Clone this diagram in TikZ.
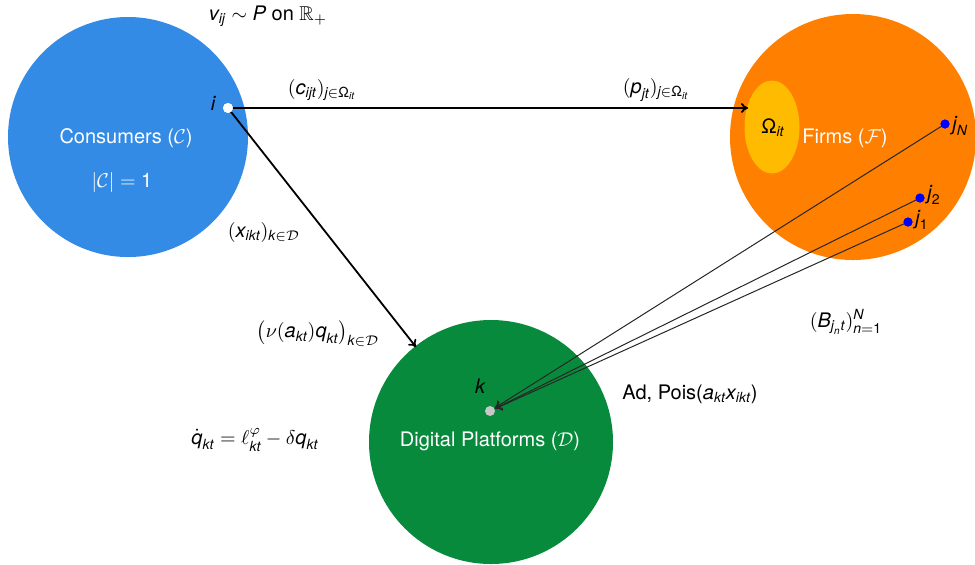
\documentclass[tikz,border=0pt]{standalone}
\usepackage{amsmath,amssymb}
\usepackage{fontspec}
\setmainfont{TeX Gyre Heros}
\usetikzlibrary{arrows.meta,shapes.geometric}
\newcommand{\mi}[1]{\textit{#1}}
\newcommand{\tu}[1]{\textup{#1}}
\newcommand{\Om}{\text{\upshape Ω}}
\definecolor{consblue}{RGB}{51,139,229}
\definecolor{firmorange}{RGB}{255,127,0}
\definecolor{platgreen}{RGB}{7,138,60}
\definecolor{omgold}{RGB}{255,187,0}
\definecolor{kgray}{RGB}{200,200,200}
\tikzset{
  bigcirc/.style={circle,inner sep=0pt,draw=none},
  flow/.style={-{To[length=3.5pt,width=5pt]},line width=0.9pt,black},
  adflow/.style={-{To[length=3.5pt,width=5pt]},line width=0.5pt,black!85},
  dotnode/.style={circle,inner sep=0pt,minimum size=5pt},
  lbl/.style={inner sep=1pt},
  intext/.style={text=white,inner sep=0pt}
}
\begin{document}
\begin{tikzpicture}[x=0.5pt,y=-0.5pt]
\useasboundingbox (0,0) rectangle (975,564);
% circles
\node[bigcirc,fill=consblue,minimum size=120pt] (C) at (128,137) {};
\node[bigcirc,fill=firmorange,minimum size=123pt] (F) at (853,137) {};
\node[bigcirc,fill=platgreen,minimum size=122pt] (D) at (491,442) {};
\node[ellipse,fill=omgold,inner sep=0pt,minimum width=27.5pt,minimum height=46.5pt] (O) at (772,127) {};
% texts inside circles
\node[intext] (ctxt) at (126,138) {Consumers ($\mathcal{C}$)};
\node[intext] (csize) at (122,182) {$|\mathcal{C}|=\tu{1}$};
\node[intext] (ftxt) at (845,138) {Firms ($\mathcal{F}$)};
\node[intext] (dtxt) at (490,441) {Digital Platforms ($\mathcal{D}$)};
\node[inner sep=0pt] (otxt) at (773,128) {$\Om_{\mi{it}}$};
% dots
\node[dotnode,fill=white] (i) at (228,108) {};
\node[dotnode,fill=kgray] (k) at (490,411) {};
\node[dotnode,fill=blue,minimum size=4.5pt] (jN) at (945,124) {};
\node[dotnode,fill=blue,minimum size=4.5pt] (j2) at (920,198) {};
\node[dotnode,fill=blue,minimum size=4.5pt] (j1) at (908,222) {};
% dot labels
\node[lbl] (il) at (213,103) {$\mi{i}$};
\node[lbl] (kl) at (480,386) {$\mi{k}$};
\node[lbl,anchor=west] (jNl) at (950,126) {$\mi{j}_{\mi{N}}$};
\node[lbl,anchor=west] (j2l) at (925,195) {$\mi{j}_{\tu{2}}$};
\node[lbl,anchor=west] (j1l) at (913,220) {$\mi{j}_{\tu{1}}$};
% connectors
\coordinate (oleft) at (748,108);
\coordinate (dtop) at (416,347);
\draw[flow] (i.center) -- (oleft);
\draw[flow] (i.center) -- (dtop);
\draw[adflow] (jN.center) -- (k);
\draw[adflow] (j2.center) -- (k);
\draw[adflow] (j1.center) -- (k);
% redraw dots on top
\node[dotnode,fill=white] at (i) {};
\node[dotnode,fill=blue,minimum size=4.5pt] at (jN) {};
\node[dotnode,fill=blue,minimum size=4.5pt] at (j2) {};
\node[dotnode,fill=blue,minimum size=4.5pt] at (j1) {};
% labels
\node[lbl] (vlab) at (268,16) {$\mi{v}_{\mi{ij}}\sim \mi{P}$ on $\mathbb{R}_+$};
\node[lbl] (clab) at (322,90) {$(\mi{c}_{\mi{ijt}})_{\mi{j}\in\Om_{\mi{it}}}$};
\node[lbl] (plab) at (656,90) {$(\mi{p}_{\mi{jt}})_{\mi{j}\in\Om_{\mi{it}}}$};
\node[lbl] (xlab) at (264,232) {$(\mi{x}_{\mi{ikt}})_{\mi{k}\in\mathcal{D}}$};
\node[lbl] (nulab) at (318,334) {$\bigl(\nu(\mi{a}_{\mi{kt}})\mi{q}_{\mi{kt}}\bigr)_{\mi{k}\in\mathcal{D}}$};
\node[lbl] (blab) at (846,322) {$(\mi{B}_{\mi{j}_{\mi{n}}\mi{t}})_{\mi{n}=\tu{1}}^{\mi{N}}$};
\node[lbl] (adlab) at (690,394) {Ad, Pois($\mi{a}_{\mi{kt}}\mi{x}_{\mi{ikt}}$)};
\node[lbl] (qlab) at (255,440) {$\dot{\mi{q}}_{\mi{kt}}=\ell_{\mi{kt}}^{\varphi}-\delta \mi{q}_{\mi{kt}}$};
\end{tikzpicture}
\end{document}
